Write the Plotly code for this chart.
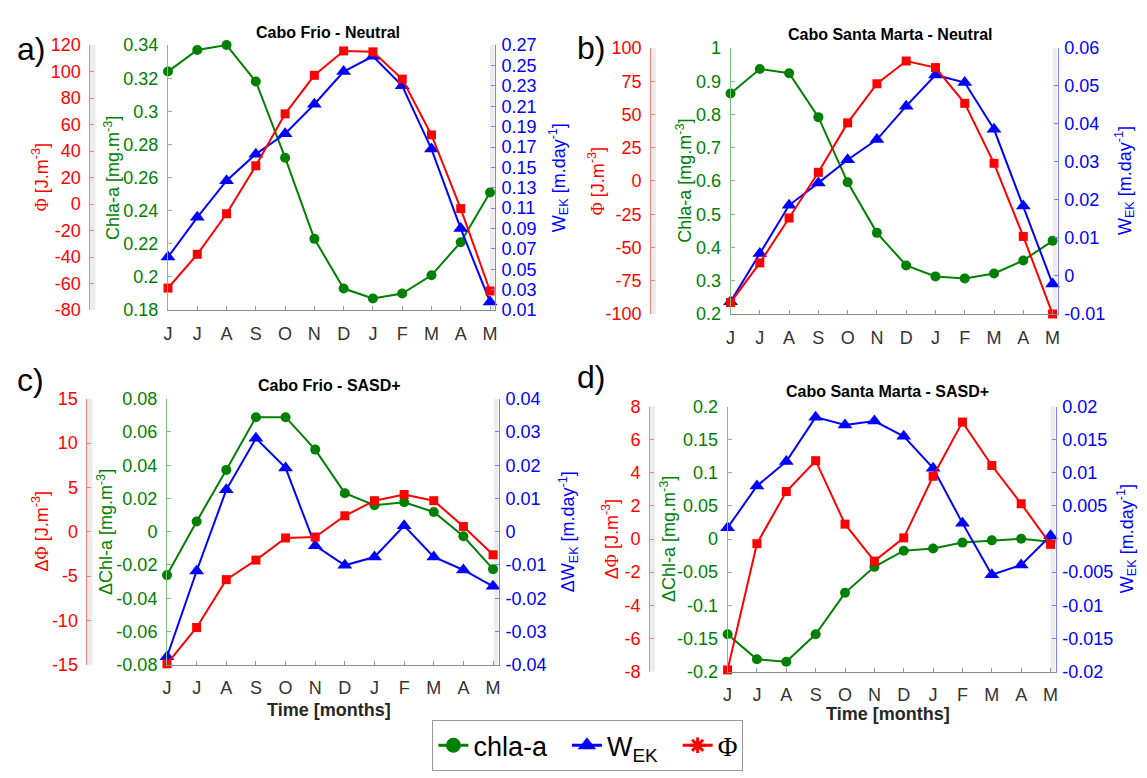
import plotly.graph_objects as go

W, H = 1147, 778

months = ["J", "J", "A", "S", "O", "N", "D", "J", "F", "M", "A", "M"]
month_idx = list(range(1, 13))

# Panel a) Cabo Frio - Neutral
chla_cf_neutral = [0.324, 0.337, 0.340, 0.318, 0.272, 0.223, 0.193, 0.187, 0.190, 0.201, 0.221, 0.251]
wek_cf_neutral = [0.062, 0.101, 0.137, 0.163, 0.183, 0.212, 0.244, 0.259, 0.230, 0.168, 0.090, 0.018]
phi_cf_neutral = [-63.4, -37.9, -7.3, 28.9, 68.1, 97.2, 115.6, 114.9, 94.3, 52.2, -3.4, -65.6]

# Panel b) Cabo Santa Marta - Neutral
chla_csm_neutral = [0.863, 0.937, 0.924, 0.792, 0.596, 0.444, 0.346, 0.313, 0.307, 0.322, 0.361, 0.420]
wek_csm_neutral = [-0.0068, 0.0059, 0.0186, 0.0245, 0.0306, 0.0359, 0.0447, 0.0529, 0.0509, 0.0386, 0.0184, -0.0021]
phi_csm_neutral = [-91.4, -61.6, -27.8, 6.5, 43.7, 73.1, 90.2, 85.3, 58.4, 13.3, -41.7, -100.0]

# Panel c) Cabo Frio - SASD+
dchla_cf_sasd = [-0.0261, 0.0062, 0.0372, 0.0689, 0.0689, 0.0494, 0.0232, 0.0160, 0.0177, 0.0119, -0.0027, -0.0225]
dwek_cf_sasd = [-0.0376, -0.0118, 0.0126, 0.0281, 0.0192, -0.0042, -0.0101, -0.0076, 0.0018, -0.0076, -0.0115, -0.0164]
dphi_cf_sasd = [-14.9, -10.8, -5.4, -3.2, -0.7, -0.6, 1.8, 3.5, 4.2, 3.5, 0.6, -2.6]

# Panel d) Cabo Santa Marta - SASD+
dchla_csm_sasd = [-0.1438, -0.1814, -0.1853, -0.1438, -0.0812, -0.0420, -0.0176, -0.0142, -0.0054, -0.0020, 0.0005, -0.0040]
dwek_csm_sasd = [0.0017, 0.0080, 0.0117, 0.0184, 0.0172, 0.0178, 0.0155, 0.0107, 0.0024, -0.0054, -0.0039, 0.0005]
dphi_csm_sasd = [-7.9, -0.28, 2.87, 4.73, 0.9, -1.33, 0.07, 3.79, 7.06, 4.44, 2.13, -0.32]

# Tick values
ticks_chla_a = [0.18, 0.20, 0.22, 0.24, 0.26, 0.28, 0.30, 0.32, 0.34]
ticks_wek_a = [0.01, 0.03, 0.05, 0.07, 0.09, 0.11, 0.13, 0.15, 0.17, 0.19, 0.21, 0.23, 0.25, 0.27]
ticks_phi_a = [-80, -60, -40, -20, 0, 20, 40, 60, 80, 100, 120]
ticks_chla_b = [0.2, 0.3, 0.4, 0.5, 0.6, 0.7, 0.8, 0.9, 1.0]
ticks_wek_b = [-0.01, 0.0, 0.01, 0.02, 0.03, 0.04, 0.05, 0.06]
ticks_phi_b = [-100, -75, -50, -25, 0, 25, 50, 75, 100]
ticks_chla_c = [-0.08, -0.06, -0.04, -0.02, 0.0, 0.02, 0.04, 0.06, 0.08]
ticks_wek_c = [-0.04, -0.03, -0.02, -0.01, 0.0, 0.01, 0.02, 0.03, 0.04]
ticks_phi_c = [-15, -10, -5, 0, 5, 10, 15]
ticks_chla_d = [-0.2, -0.15, -0.1, -0.05, 0.0, 0.05, 0.1, 0.15, 0.2]
ticks_wek_d = [-0.02, -0.015, -0.01, -0.005, 0.0, 0.005, 0.01, 0.015, 0.02]
ticks_phi_d = [-8, -6, -4, -2, 0, 2, 4, 6, 8]

GREEN = "#008000"
BLUE = "#0000ff"
RED = "#ff0000"
FONT = "Liberation Sans, Arial, sans-serif"
TICK = 18
PHI = '<span style="font-family:Liberation Serif, Times New Roman, serif">Φ</span>'

def fmt(v):
    s = f"{v:g}"
    return "0" if s in ("-0", "0") else s

def px(x):
    return x / W

def py(y):
    return 1 - y / H

panels = [
    dict(left=164, right=493, top=36, bottom=308, red=85, xmax=12.17,
         chla=chla_cf_neutral, wek=wek_cf_neutral, phi=phi_cf_neutral,
         tc=ticks_chla_a, tw=ticks_wek_a, tp=ticks_phi_a,
         title="Cabo Frio - Neutral", title_y=23, letter="a)", letter_x=26, letter_y=40,
         phi_t=PHI + " [J.m<sup>-3</sup>]", chla_t="Chla-a [mg.m<sup>-3</sup>]",
         wek_t="W<sub>EK</sub> [m.day<sup>-1</sup>]", phi_tx=36, chla_tx=108, wek_tx=557,
         xlab=None),
    dict(left=730, right=1059, top=39, bottom=312, red=649, xmax=12.17,
         chla=chla_csm_neutral, wek=wek_csm_neutral, phi=phi_csm_neutral,
         tc=ticks_chla_b, tw=ticks_wek_b, tp=ticks_phi_b,
         title="Cabo Santa Marta - Neutral", title_y=25, letter="b)", letter_x=590, letter_y=39,
         phi_t=PHI + " [J.m<sup>-3</sup>]", chla_t="Chla-a [mg.m<sup>-3</sup>]",
         wek_t="W<sub>EK</sub> [m.day<sup>-1</sup>]", phi_tx=596, chla_tx=684, wek_tx=1127,
         xlab=None),
    dict(left=163, right=497, top=399, bottom=672, red=82, xmax=12.2,
         chla=dchla_cf_sasd, wek=dwek_cf_sasd, phi=dphi_cf_sasd,
         tc=ticks_chla_c, tw=ticks_wek_c, tp=ticks_phi_c,
         title="Cabo Frio - SASD+", title_y=385, letter="c)", letter_x=26, letter_y=380,
         phi_t="Δ" + PHI + " [J.m<sup>-3</sup>]", chla_t="ΔChl-a [mg.m<sup>-3</sup>]",
         wek_t="ΔW<sub>EK</sub> [m.day<sup>-1</sup>]", phi_tx=36, chla_tx=101, wek_tx=567,
         xlab=718),
    dict(left=727, right=1057, top=407, bottom=679, red=648, xmax=12.17,
         chla=dchla_csm_sasd, wek=dwek_csm_sasd, phi=dphi_csm_sasd,
         tc=ticks_chla_d, tw=ticks_wek_d, tp=ticks_phi_d,
         title="Cabo Santa Marta - SASD+", title_y=392, letter="d)", letter_x=590, letter_y=377,
         phi_t="Δ" + PHI + " [J.m<sup>-3</sup>]", chla_t="ΔChl-a [mg.m<sup>-3</sup>]",
         wek_t="W<sub>EK</sub> [m.day<sup>-1</sup>]", phi_tx=609, chla_tx=667, wek_tx=1128,
         xlab=723),
]

fig = go.Figure()
layout = dict(
    width=W, height=H, margin=dict(l=0, r=0, t=0, b=0),
    paper_bgcolor="white", plot_bgcolor="rgba(0,0,0,0)",
    font=dict(family=FONT, size=TICK, color="#262626"),
    showlegend=True,
)
annotations = []
shapes = []

for i, p in enumerate(panels):
    xn = i + 1
    xid = "x" if xn == 1 else f"x{xn}"
    g_n, b_n, r_n = 3 * i + 1, 3 * i + 2, 3 * i + 3
    gid = "y" if g_n == 1 else f"y{g_n}"
    bid, rid = f"y{b_n}", f"y{r_n}"
    xdom = [px(p["left"]), px(p["right"])]
    ydom = [py(p["bottom"]), py(p["top"])]

    layout["xaxis" if xn == 1 else f"xaxis{xn}"] = dict(
        domain=xdom, range=[1, p["xmax"]], anchor=gid,
        tickvals=month_idx, ticktext=months, ticks="inside", ticklen=4,
        tickcolor="#999999", showline=True, linecolor="#8c8c8c", linewidth=1,
        ticklabelstandoff=7,
        showgrid=False, zeroline=False, tickfont=dict(size=TICK, color="#333333"),
    )
    tc, tw, tp = p["tc"], p["tw"], p["tp"]
    layout["yaxis" if g_n == 1 else f"yaxis{g_n}"] = dict(
        domain=ydom, anchor=xid, range=[tc[0], tc[-1]], side="left",
        tickvals=tc, ticktext=[fmt(v) for v in tc], ticks="inside", ticklen=4,
        tickcolor="#7fbf7f", ticklabelstandoff=5,
        showline=True, linecolor="#7fbf7f", linewidth=1, showgrid=False, zeroline=False,
        tickfont=dict(size=TICK, color=GREEN),
    )
    layout[f"yaxis{b_n}"] = dict(
        overlaying=gid, anchor=xid, side="right", range=[tw[0], tw[-1]],
        tickvals=tw, ticktext=[fmt(v) for v in tw], ticks="inside", ticklen=4,
        tickcolor="#8080ff", ticklabelstandoff=2,
        showline=True, linecolor="#8080ff", linewidth=1, showgrid=False, zeroline=False,
        tickfont=dict(size=TICK, color=BLUE),
    )
    layout[f"yaxis{r_n}"] = dict(
        overlaying=gid, anchor="free", position=px(p["red"]), side="left",
        range=[tp[0], tp[-1]], tickvals=tp, ticktext=[fmt(v) for v in tp],
        ticks="inside", ticklen=4, tickcolor="#ff7f7f", ticklabelstandoff=5,
        showline=True, linecolor="#ff7f7f", linewidth=1, showgrid=False, zeroline=False,
        tickfont=dict(size=TICK, color=RED),
    )

    shapes.append(dict(type="rect", xref="paper", yref="paper", layer="below",
                       x0=px(p["red"] + 0.5), x1=px(p["red"] + 6), y0=ydom[0], y1=ydom[1],
                       fillcolor="#ececec", line=dict(width=0)))
    shapes.append(dict(type="rect", xref="paper", yref="paper", layer="below",
                       x0=px(p["right"] - 5), x1=px(p["right"] - 0.5), y0=ydom[0], y1=ydom[1],
                       fillcolor="#ececec", line=dict(width=0)))

    fig.add_trace(go.Scatter(
        x=month_idx, y=p["chla"], xaxis=xid, yaxis=gid, mode="lines+markers",
        line=dict(color=GREEN, width=2), marker=dict(symbol="circle", size=10, color=GREEN),
        showlegend=False, cliponaxis=False, name="chla-a"))
    fig.add_trace(go.Scatter(
        x=month_idx, y=p["wek"], xaxis=xid, yaxis=bid, mode="lines+markers",
        line=dict(color=BLUE, width=2), marker=dict(symbol="triangle-up", size=13, color=BLUE),
        showlegend=False, cliponaxis=False, name="W_EK"))
    fig.add_trace(go.Scatter(
        x=month_idx, y=p["phi"], xaxis=xid, yaxis=rid, mode="lines+markers",
        line=dict(color=RED, width=2), marker=dict(symbol="square", size=9, color=RED),
        showlegend=False, cliponaxis=False, name="Φ"))

    cy = (p["top"] + p["bottom"]) / 2
    annotations += [
        dict(text=f"<b>{p['title']}</b>", x=px((p["left"] + p["right"]) / 2 - 4), y=py(p["title_y"]),
             xref="paper", yref="paper", showarrow=False, xanchor="center", yanchor="middle",
             font=dict(size=16, color="black")),
        dict(text=p["letter"], x=px(p["letter_x"]), y=py(p["letter_y"]), xref="paper", yref="paper",
             showarrow=False, xanchor="center", yanchor="middle", font=dict(size=32, color="black")),
        dict(text=p["phi_t"], x=px(p["phi_tx"]), y=py(cy), xref="paper", yref="paper",
             showarrow=False, textangle=-90, xanchor="center", yanchor="middle",
             font=dict(size=TICK, color=RED)),
        dict(text=p["chla_t"], x=px(p["chla_tx"]), y=py(cy), xref="paper", yref="paper",
             showarrow=False, textangle=-90, xanchor="center", yanchor="middle",
             font=dict(size=TICK, color=GREEN)),
        dict(text=p["wek_t"], x=px(p["wek_tx"]), y=py(cy), xref="paper", yref="paper",
             showarrow=False, textangle=-90, xanchor="center", yanchor="middle",
             font=dict(size=TICK, color=BLUE)),
    ]
    if p["xlab"]:
        annotations.append(dict(text="<b>Time [months]</b>", x=px((p["left"] + p["right"]) / 2 - 4),
                                y=py(p["xlab"]), xref="paper", yref="paper", showarrow=False,
                                xanchor="center", yanchor="middle", font=dict(size=18, color="#262626")))

# legend-only entries
fig.add_trace(go.Scatter(x=[None], y=[None], mode="lines+markers", name="chla-a\u00a0\u00a0",
                         line=dict(color=GREEN, width=3), marker=dict(symbol="circle", size=15, color=GREEN)))
fig.add_trace(go.Scatter(x=[None], y=[None], mode="lines+markers", name="W<sub>EK</sub>\u00a0\u00a0",
                         line=dict(color=BLUE, width=3), marker=dict(symbol="triangle-up", size=17, color=BLUE)))
fig.add_trace(go.Scatter(x=[None], y=[None], mode="lines+markers", name=PHI,
                         line=dict(color=RED, width=3),
                         marker=dict(symbol="asterisk-open", size=13, color=RED, line=dict(width=3, color=RED))))

layout["legend"] = dict(orientation="h", x=px(430), y=py(729), xanchor="left", yanchor="top",
                        bordercolor="#999999", borderwidth=1, bgcolor="white",
                        font=dict(size=27, color="black", family=FONT), itemwidth=30,
                        tracegroupgap=0)
layout["annotations"] = annotations
layout["shapes"] = shapes
fig.update_layout(**layout)

fig.write_html("out.html")
